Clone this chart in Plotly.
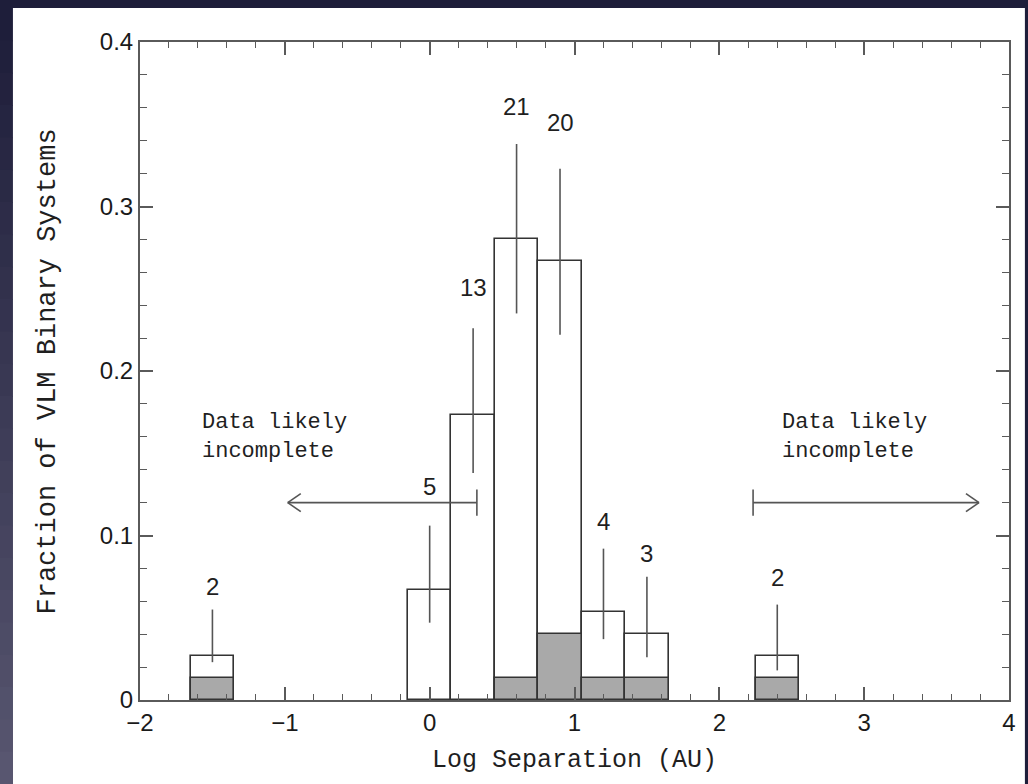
import plotly.graph_objects as go

# ---- data ----
bin_centers = [-1.5, 0.0, 0.3, 0.6, 0.9, 1.2, 1.5, 2.4]
bin_width = 0.3
fraction_all = [0.0267, 0.0667, 0.1733, 0.2800, 0.2667, 0.0533, 0.0400, 0.0267]
fraction_grey = [0.0133, 0.0, 0.0, 0.0133, 0.0400, 0.0133, 0.0133, 0.0133]
err_top = [0.055, 0.106, 0.226, 0.338, 0.323, 0.092, 0.075, 0.058]
err_bottom = [0.023, 0.047, 0.138, 0.235, 0.222, 0.037, 0.026, 0.018]
counts = ["2", "5", "13", "21", "20", "4", "3", "2"]
count_label_y = [0.069, 0.130, 0.2505, 0.3607, 0.3508, 0.1084, 0.0892, 0.0742]

x_ticks = [-2, -1, 0, 1, 2, 3, 4]
x_ticklabels = ["\u22122", "\u22121", "0", "1", "2", "3", "4"]
y_ticks = [0, 0.1, 0.2, 0.3, 0.4]
y_ticklabels = ["0", "0.1", "0.2", "0.3", "0.4"]

# arrows marking incomplete regions: (start, end, y)
left_arrow = (0.326, -0.98, 0.12)
right_arrow = (2.233, 3.793, 0.12)
note_text = "Data likely<br>incomplete"
left_note_pos = (-1.073, 0.160)
right_note_pos = (2.935, 0.160)

# ---- styles ----
EDGE = "#333333"
GREY = "#a9a9a9"
AXIS = "#5a5a5a"
SANS = "Liberation Sans, Arial, sans-serif"
MONO = "Liberation Mono, Courier New, monospace"

up = [t - h for t, h in zip(err_top, fraction_all)]
down = [h - b for h, b in zip(fraction_all, err_bottom)]
grey_plot = [g if g > 0 else None for g in fraction_grey]

fig = go.Figure()
fig.add_trace(go.Bar(
    x=bin_centers, y=fraction_all, width=bin_width,
    marker=dict(color="white", line=dict(color=EDGE, width=1.6)),
    hoverinfo="skip", showlegend=False))
fig.add_trace(go.Bar(
    x=bin_centers, y=grey_plot, width=bin_width,
    marker=dict(color=GREY, line=dict(color=EDGE, width=1.6)),
    hoverinfo="skip", showlegend=False))
fig.add_trace(go.Scatter(
    x=bin_centers, y=fraction_all, mode="markers",
    marker=dict(size=1, color="rgba(0,0,0,0)"),
    error_y=dict(type="data", symmetric=False, array=up, arrayminus=down,
                 width=0, thickness=1.6, color="#555555"),
    hoverinfo="skip", showlegend=False))

# count labels
for xc, lab, ly in zip(bin_centers, counts, count_label_y):
    fig.add_annotation(x=xc, y=ly, text=lab, showarrow=False,
                       font=dict(family=SANS, size=24, color="#1f1f1f"),
                       xanchor="center", yanchor="middle")

# arrows
def add_arrow(start, end, y):
    direction = 1 if end > start else -1
    head_dx = 0.09 * direction
    head_dy = 0.0055
    tick_dy = 0.008
    style = dict(color="#555555", width=1.6)
    fig.add_shape(type="line", x0=start, x1=end, y0=y, y1=y, line=style)
    fig.add_shape(type="line", x0=start, x1=start, y0=y - tick_dy, y1=y + tick_dy, line=style)
    fig.add_shape(type="line", x0=end, x1=end - head_dx, y0=y, y1=y + head_dy, line=style)
    fig.add_shape(type="line", x0=end, x1=end - head_dx, y0=y, y1=y - head_dy, line=style)

add_arrow(*left_arrow)
add_arrow(*right_arrow)

for (nx, ny) in (left_note_pos, right_note_pos):
    fig.add_annotation(x=nx, y=ny, text=note_text, showarrow=False, align="left",
                       font=dict(family=MONO, size=22, color="#1f1f1f"),
                       xanchor="center", yanchor="middle")

# axis titles
fig.add_annotation(xref="paper", yref="paper", x=0.5, y=-0.0912,
                   text="Log Separation (AU)", showarrow=False,
                   font=dict(family=MONO, size=25, color="#1f1f1f"),
                   xanchor="center", yanchor="middle")
fig.add_annotation(xref="paper", yref="paper", x=-0.1053, y=0.5,
                   text="Fraction of VLM Binary Systems", showarrow=False, textangle=-90,
                   font=dict(family=MONO, size=27, color="#1f1f1f"),
                   xanchor="center", yanchor="middle")

# white card and dark gradient frame
W, L, R, T, B = 1028, 140, 14, 42, 84
pw = W - L - R
ph = 784 - T - B
def px(xp):
    return (xp - L) / pw
def py(yp):
    return (784 - B - yp) / ph

fig.add_shape(type="rect", xref="paper", yref="paper", layer="below",
              x0=px(12), x1=px(1030), y0=py(786), y1=py(8),
              fillcolor="white", line=dict(width=0))
# left strip gradient
top_rgb = (30, 30, 58)
bot_rgb = (88, 86, 112)
n = 24
for i in range(n):
    f = i / (n - 1)
    c = tuple(int(a + (b - a) * f) for a, b in zip(top_rgb, bot_rgb))
    y0p = 8 + (784 - 8) * i / n
    y1p = 8 + (784 - 8) * (i + 1) / n
    fig.add_shape(type="rect", xref="paper", yref="paper", layer="below",
                  x0=px(-2), x1=px(12), y0=py(y1p + 1), y1=py(y0p),
                  fillcolor="rgb(%d,%d,%d)" % c, line=dict(width=0))

axis_common = dict(showgrid=False, zeroline=False, showline=True, linecolor=AXIS,
                   linewidth=2, mirror="allticks", ticks="inside", ticklen=13,
                   tickwidth=1.6, tickcolor=AXIS,
                   tickfont=dict(family=SANS, size=24, color="#1a1a1a"))

fig.update_layout(
    width=W, height=784,
    margin=dict(l=L, r=R, t=T, b=B),
    paper_bgcolor="rgb(30,30,58)",
    plot_bgcolor="white",
    barmode="overlay",
    bargap=0,
    xaxis=dict(range=[-2, 4], tickmode="array", tickvals=x_ticks, ticktext=x_ticklabels,
               minor=dict(dtick=0.2, ticks="inside", ticklen=6, tickwidth=1.4, tickcolor=AXIS,
                          showgrid=False),
               **axis_common),
    yaxis=dict(range=[0, 0.4], tickmode="array", tickvals=y_ticks, ticktext=y_ticklabels,
               minor=dict(dtick=0.02, ticks="inside", ticklen=7, tickwidth=1.4, tickcolor=AXIS,
                          showgrid=False),
               **axis_common),
)

fig.write_html("out.html")
